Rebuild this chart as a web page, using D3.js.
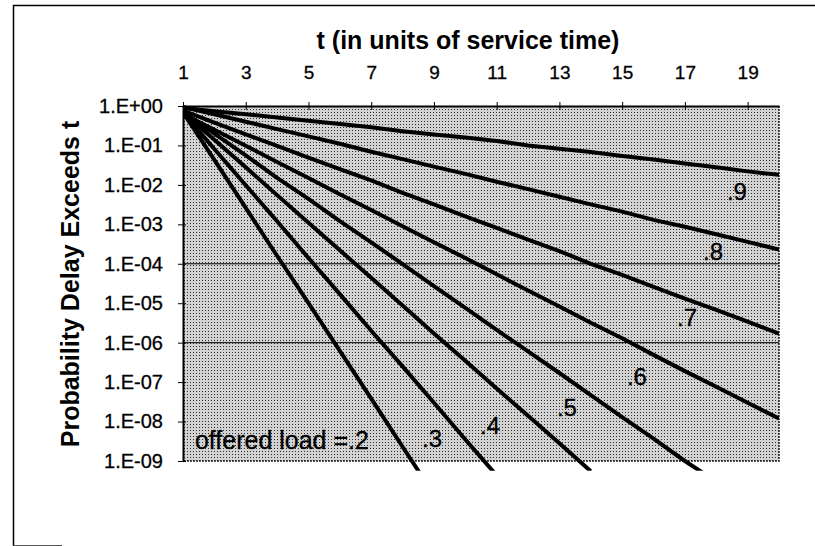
<!DOCTYPE html>
<html>
<head>
<meta charset="utf-8">
<script src="https://cdn.jsdelivr.net/npm/d3@7"></script>
<style>
  body { margin: 0; background: #fff; }
  svg { display: block; font-family: "Liberation Sans", Arial, sans-serif; }
</style>
</head>
<body>
<div id="chart"></div>
<script>
//DATA
const tValues = [1, 2, 3, 4, 5, 6, 7, 8, 9, 10, 11, 12, 13, 14, 15, 16, 17, 18, 19, 20];
const loadNames = ['.2', '.3', '.4', '.5', '.6', '.7', '.8', '.9'];

const load2 = [0.69, 0.043, 2.6e-3, 1.6e-4, 1.0e-5, 6.2e-7, 3.8e-8, 2.3e-9, 1.4e-10];
const load3 = [0.68, 0.081, 9.8e-3, 1.2e-3, 1.4e-4, 1.7e-5, 2.0e-6, 2.5e-7, 3.0e-8, 3.5e-9, 4.3e-10];
const load4 = [0.69, 0.14, 0.028, 5.5e-3, 1.1e-3, 2.2e-4, 4.4e-5, 8.7e-6, 1.7e-6, 3.5e-7, 6.9e-8, 1.4e-8, 2.8e-9, 5.5e-10];
const load5 = [0.71, 0.20, 0.056, 0.015, 4.4e-3, 1.2e-3, 3.5e-4, 9.8e-5, 2.7e-5, 7.6e-6, 2.1e-6, 6.0e-7, 1.7e-7, 4.7e-8, 1.3e-8, 3.7e-9, 1.0e-9, 3.0e-10];
const load6 = [0.63, 0.25, 0.098, 0.038, 0.015, 5.8e-3, 2.3e-3, 8.9e-4, 3.5e-4, 1.4e-4, 5.4e-5, 2.1e-5, 8.3e-6, 3.2e-6, 1.3e-6, 4.9e-7, 1.9e-7, 7.6e-8, 3.0e-8, 1.2e-8];
const load7 = [0.76, 0.38, 0.19, 0.098, 0.049, 0.025, 0.013, 6.3e-3, 3.2e-3, 1.6e-3, 8.1e-4, 4.1e-4, 2.1e-4, 1.0e-4, 5.2e-5, 2.6e-5, 1.3e-5, 6.8e-6, 3.4e-6, 1.7e-6];
const load8 = [0.95, 0.62, 0.40, 0.26, 0.17, 0.11, 0.069, 0.045, 0.029, 0.019, 0.012, 7.8e-3, 5.0e-3, 3.2e-3, 2.1e-3, 1.3e-3, 8.7e-4, 5.6e-4, 3.6e-4, 2.3e-4];
const load9 = [0.89, 0.74, 0.62, 0.51, 0.42, 0.35, 0.29, 0.23, 0.19, 0.16, 0.13, 0.10, 0.083, 0.068, 0.054, 0.044, 0.035, 0.028, 0.022, 0.018];

//AXES AND LABELS
const xTicks = [1, 3, 5, 7, 9, 11, 13, 15, 17, 19];
const yTicks = [1, 1e-1, 1e-2, 1e-3, 1e-4, 1e-5, 1e-6, 1e-7, 1e-8, 1e-9];
const yTickLabels = ['1.E+00', '1.E-01', '1.E-02', '1.E-03', '1.E-04', '1.E-05', '1.E-06', '1.E-07', '1.E-08', '1.E-09'];
const gridValues = [1e-4, 1e-6];
const xTitle = 't (in units of service time)';
const yTitle = 'Probability Delay Exceeds t';

//LINE LABELS (in data units)
const labelTexts = ['offered load =.2', '.3', '.4', '.5', '.6', '.7', '.8', '.9'];
const labelT = [1.38, 8.94, 10.79, 13.24, 15.47, 17.07, 17.9, 18.66];
const labelP = [3.4e-9, 3.8e-9, 8.1e-9, 2.3e-8, 1.35e-7, 4.2e-6, 2.0e-4, 6.6e-3];

const series = [load2, load3, load4, load5, load6, load7, load8, load9];

//SIZES
const width = 815;
const height = 546;
const plot = {left: 183, right: 779, top: 106, bottom: 461};

const x = d3.scaleLinear().domain([1, 20]).range([plot.left, plot.right]);
const y = d3.scaleLog().domain([1, 1e-9]).range([plot.top, plot.bottom]);

const svg = d3.select('#chart').append('svg')
    .attr('width', width)
    .attr('height', height);

//BACKGROUND PATTERN
const defs = svg.append('defs');
const pat = defs.append('pattern')
    .attr('id', 'stipple')
    .attr('width', 3).attr('height', 3)
    .attr('patternUnits', 'userSpaceOnUse');
pat.append('rect').attr('width', 3).attr('height', 3).attr('fill', '#d2d2d2');
pat.append('rect').attr('x', 1).attr('y', 1).attr('width', 1).attr('height', 1).attr('fill', '#2e2e2e');

defs.append('clipPath').attr('id', 'clip')
    .append('rect')
    .attr('x', plot.left)
    .attr('y', plot.top - 10)
    .attr('width', plot.right - plot.left)
    .attr('height', y(10 ** -9.25) - plot.top + 10);

//OUTER FRAME
svg.append('path')
    .attr('d', 'M13.5,546V5.5H815')
    .attr('fill', 'none')
    .attr('stroke', '#000')
    .attr('stroke-width', 1.5);
svg.append('path')
    .attr('d', 'M13.5,545.5H62')
    .attr('stroke', '#555')
    .attr('stroke-width', 1);

//PLOT AREA
svg.append('rect')
    .attr('x', plot.left)
    .attr('y', plot.top)
    .attr('width', plot.right - plot.left)
    .attr('height', plot.bottom - plot.top)
    .attr('fill', 'url(#stipple)');

svg.append('path')
    .attr('d', `M${plot.right},${plot.top}V${plot.bottom}H${plot.left}`)
    .attr('fill', 'none')
    .attr('stroke', '#222')
    .attr('stroke-width', 1.5)
    .attr('stroke-dasharray', '2,1');

svg.append('g').selectAll('line').data(gridValues)
    .enter().append('line')
    .attr('x1', plot.left).attr('x2', plot.right)
    .attr('y1', d => y(d)).attr('y2', d => y(d))
    .attr('stroke', '#000')
    .attr('stroke-width', 1);

//LINES
const line = d3.line()
    .x((d, i) => x(tValues[i]))
    .y(d => y(d));

svg.append('g').attr('clip-path', 'url(#clip)')
    .selectAll('path').data(series)
    .enter().append('path')
    .attr('d', line)
    .attr('fill', 'none')
    .attr('stroke', '#000')
    .attr('stroke-width', 4)
    .attr('stroke-linejoin', 'round');

//AXES
const xAxis = svg.append('g')
    .attr('transform', `translate(0,${plot.top})`)
    .call(d3.axisTop(x).tickValues(xTicks).tickSizeInner(4).tickSizeOuter(0).tickPadding(23));
xAxis.select('.domain').attr('stroke-width', 2);
xAxis.selectAll('.tick line').attr('y1', 4).attr('y2', -4);
xAxis.selectAll('.tick text')
    .attr('font-size', 19)
    .attr('fill', '#000')
    .attr('stroke', '#000').attr('stroke-width', 0.3)
    .attr('font-family', '"Liberation Sans", Arial, sans-serif');

const yAxis = svg.append('g')
    .attr('transform', `translate(${plot.left},0)`)
    .call(d3.axisLeft(y).tickValues(yTicks).tickFormat((d, i) => yTickLabels[i]).tickSizeInner(5).tickSizeOuter(0).tickPadding(15));
yAxis.select('.domain').attr('stroke-width', 2);
yAxis.selectAll('.tick line').attr('x1', 3).attr('x2', -5);
yAxis.selectAll('.tick text')
    .attr('font-size', 20)
    .attr('fill', '#000')
    .attr('stroke', '#000').attr('stroke-width', 0.3)
    .attr('font-family', '"Liberation Sans", Arial, sans-serif');

//TITLES
svg.append('text')
    .attr('x', 468)
    .attr('y', 49)
    .attr('text-anchor', 'middle')
    .attr('font-size', 25)
    .attr('font-weight', 'bold')
    .text(xTitle);

svg.append('text')
    .attr('transform', 'translate(79,284) rotate(-90)')
    .attr('text-anchor', 'middle')
    .attr('font-size', 25)
    .attr('font-weight', 'bold')
    .text(yTitle);

//LINE LABELS
svg.append('g').selectAll('text').data(labelTexts)
    .enter().append('text')
    .attr('x', (d, i) => x(labelT[i]))
    .attr('y', (d, i) => y(labelP[i]))
    .attr('dy', '0.35em')
    .attr('text-anchor', (d, i) => i === 0 ? 'start' : 'middle')
    .attr('font-size', (d, i) => i === 0 ? 25 : 24)
    .attr('stroke', '#000').attr('stroke-width', 0.3)
    .text(d => d);
</script>
</body>
</html>
